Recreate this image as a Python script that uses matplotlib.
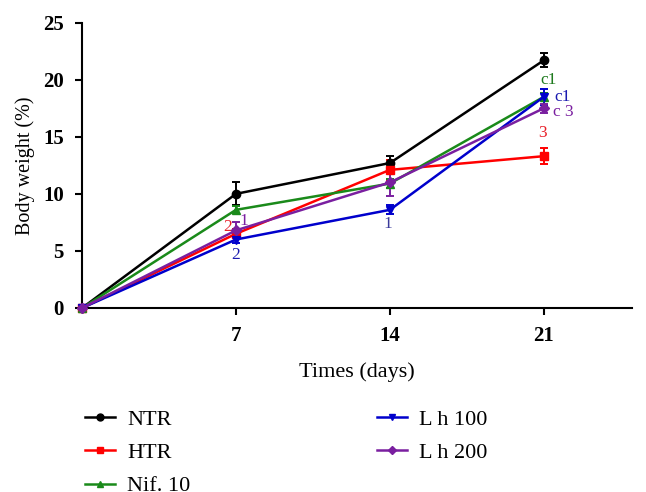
import numpy as np
import matplotlib
matplotlib.use("Agg")
import matplotlib.pyplot as plt
from matplotlib.lines import Line2D

plt.rcParams['font.family'] = ['Liberation Serif', 'DejaVu Serif']

days = [0, 7, 14, 21]
groups = ['NTR', 'HTR', 'Nif. 10', 'L h 100', 'L h 200']
ntr = [0, 10.0, 12.7, 21.7]
ntr_err = [0, 1.0, 0.6, 0.6]
htr = [0, 6.5, 12.1, 13.3]
htr_err = [0, 0.4, 0.9, 0.7]
nif = [0, 8.6, 10.9, 18.5]
nif_err = [0, 0.3, 0.4, 0.3]
lh100 = [0, 6.0, 8.6, 18.5]
lh100_err = [0, 0.3, 0.4, 0.7]
lh200 = [0, 6.8, 11.0, 17.5]
lh200_err = [0, 0.7, 1.2, 0.4]

# significance letters: (text, x, y, colour)
notes = [
    ('2', 6.6, 7.1, '#e8202a'),
    ('1', 7.35, 7.6, '#7a1fa0'),
    ('2', 7.0, 4.6, '#1a1ab0'),
    ('1', 13.9, 7.4, '#3a3a9a'),
    ('c1', 21.2, 20.0, '#1e7a1e'),
    ('c1', 21.85, 18.5, '#1a1ab0'),
    ('c 3', 21.9, 17.2, '#7a1fa0'),
    ('3', 20.95, 15.3, '#e8202a'),
]

series = [ntr, htr, nif, lh100, lh200]
errs = [ntr_err, htr_err, nif_err, lh100_err, lh200_err]
colors = ['#000000', '#ff0000', '#1a8a1a', '#0000cc', '#7a1fa0']
markers = ['o', 's', '^', 'v', 'D']
msizes = [6, 6, 6, 6, 5]

fig = plt.figure(figsize=(6.46, 4.92), dpi=100)
ax = fig.add_axes([0.127, 0.374, 0.851, 0.58])

handles = []
for vals, err, c, m, ms, name in zip(series, errs, colors, markers, msizes, groups):
    ax.errorbar(days, vals, yerr=err, color=c, marker=m, markersize=ms,
                linewidth=1.8, elinewidth=1.4, capsize=3, capthick=1.4,
                clip_on=False, zorder=3)
    handles.append(Line2D([], [], color=c, marker=m, markersize=ms - 1,
                          linewidth=1.8, label=name))

for txt, x, y, c in notes:
    ax.text(x, y, txt, color=c, fontsize=12.5, ha='center', va='center')

ax.set_xlim(0, 25)
ax.set_ylim(0, 25)
ax.set_xticks([7, 14, 21])
ax.set_yticks([0, 5, 10, 15, 20, 25])
ax.spines['top'].set_visible(False)
ax.spines['right'].set_visible(False)
for s in ['left', 'bottom']:
    ax.spines[s].set_linewidth(1.5)
ax.tick_params(direction='out', length=5, width=1.5, labelsize=15, pad=8)
for lab in ax.get_xticklabels() + ax.get_yticklabels():
    lab.set_fontweight('bold')

ax.set_xlabel('Times (days)', fontsize=16, labelpad=12)
ax.set_ylabel('Body weight (%)', fontsize=14.5, labelpad=6)

fig.legend(handles=handles, loc='upper left', bbox_to_anchor=(0.118, 0.186),
           ncol=2, frameon=False, fontsize=16, handlelength=1.35,
           handletextpad=0.55, columnspacing=8.4, labelspacing=0.57,
           borderaxespad=0)

fig.savefig('out.png', dpi=100)
